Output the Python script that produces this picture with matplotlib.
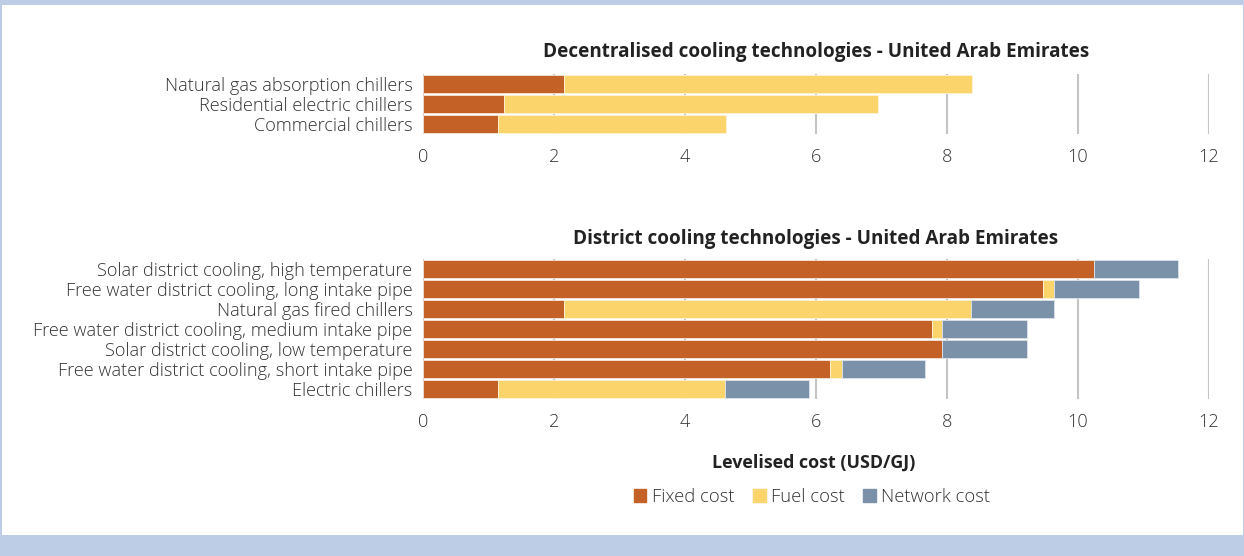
import matplotlib.pyplot as plt
from matplotlib.patches import Rectangle, Patch

plt.rcParams['font.family'] = ['Open Sans', 'DejaVu Sans']

# decentralised technologies (top panel), listed top to bottom
dec_names = ["Natural gas absorption chillers", "Residential electric chillers", "Commercial chillers"]
dec_fixed = [2.16, 1.24, 1.15]
dec_fuel = [6.22, 5.71, 3.47]

# district cooling technologies (bottom panel), listed top to bottom
dis_names = ["Solar district cooling, high temperature",
             "Free water district cooling, long intake pipe",
             "Natural gas fired chillers",
             "Free water district cooling, medium intake pipe",
             "Solar district cooling, low temperature",
             "Free water district cooling, short intake pipe",
             "Electric chillers"]
dis_fixed = [10.24, 9.47, 2.16, 7.77, 7.93, 6.21, 1.15]
dis_fuel = [0.0, 0.17, 6.20, 0.16, 0.0, 0.18, 3.46]
dis_network = [1.29, 1.29, 1.28, 1.29, 1.29, 1.28, 1.28]

c_fixed = '#C46127'
c_fuel = '#FBD56B'
c_net = '#7B91AA'
txt = '#333333'
fs = 13.1

fig = plt.figure(figsize=(12.44, 5.56), dpi=100, facecolor='#BCCDE5')
fig.patches.append(Rectangle((2 / 1244, 21 / 556), 1241 / 1244, 530 / 556,
                             transform=fig.transFigure, facecolor='white',
                             edgecolor='none', zorder=-1))


def style(ax, names, title, tpad):
    ax.set_xlim(0, 12)
    ax.set_ylim(len(names) - 0.5, -0.5)
    ax.set_xticks(range(0, 13, 2))
    ax.set_yticks(range(len(names)))
    ax.set_yticklabels(names, fontweight='light')
    for lab in ax.get_xticklabels():
        lab.set_fontweight('light')
    ax.tick_params(length=0, labelsize=fs, colors=txt)
    ax.tick_params(axis='x', pad=10)
    ax.tick_params(axis='y', pad=7.5)
    for s in ax.spines.values():
        s.set_visible(False)
    ax.grid(axis='x', color='#C4C4C4', linewidth=1.5)
    ax.set_axisbelow(True)
    ax.set_facecolor('none')
    ax.set_title(title, fontsize=13.6, fontweight='bold', color='#222222', pad=tpad)


h = 0.86
ax1 = fig.add_axes([423 / 1244, (556 - 134) / 556, 786 / 1244, 60 / 556])
y1 = range(len(dec_names))
ax1.barh(y1, dec_fixed, height=h, color=c_fixed, edgecolor='#F3E6DC', linewidth=0.6)
ax1.barh(y1, dec_fuel, left=dec_fixed, height=h, color=c_fuel, edgecolor='#FDF3D8', linewidth=0.6)
style(ax1, dec_names, 'Decentralised cooling technologies - United Arab Emirates', 12)

ax2 = fig.add_axes([423 / 1244, (556 - 399) / 556, 786 / 1244, 140 / 556])
y2 = range(len(dis_names))
left2 = [a + b for a, b in zip(dis_fixed, dis_fuel)]
ax2.barh(y2, dis_fixed, height=h, color=c_fixed, edgecolor='#F3E6DC', linewidth=0.6)
ax2.barh(y2, dis_fuel, left=dis_fixed, height=h, color=c_fuel, edgecolor='#FDF3D8', linewidth=0.6)
ax2.barh(y2, dis_network, left=left2, height=h, color=c_net, edgecolor='#DDE3EA', linewidth=0.6)
style(ax2, dis_names, 'District cooling technologies - United Arab Emirates', 11)

fig.text(814 / 1244, 1 - 463 / 556, 'Levelised cost (USD/GJ)', ha='center', va='center',
         fontsize=12.9, fontweight='bold', color='#222222')

handles = [Patch(color=c_fixed, label='Fixed cost'),
           Patch(color=c_fuel, label='Fuel cost'),
           Patch(color=c_net, label='Network cost')]
fig.legend(handles=handles, loc='center', bbox_to_anchor=(812 / 1244, 1 - 497 / 556),
           ncol=3, frameon=False, handlelength=0.7, handleheight=0.7,
           handletextpad=0.3, columnspacing=1.0, labelcolor=txt,
           prop={'size': 13.2, 'weight': 'light'})

fig.savefig('out.png', dpi=100, facecolor=fig.get_facecolor())
